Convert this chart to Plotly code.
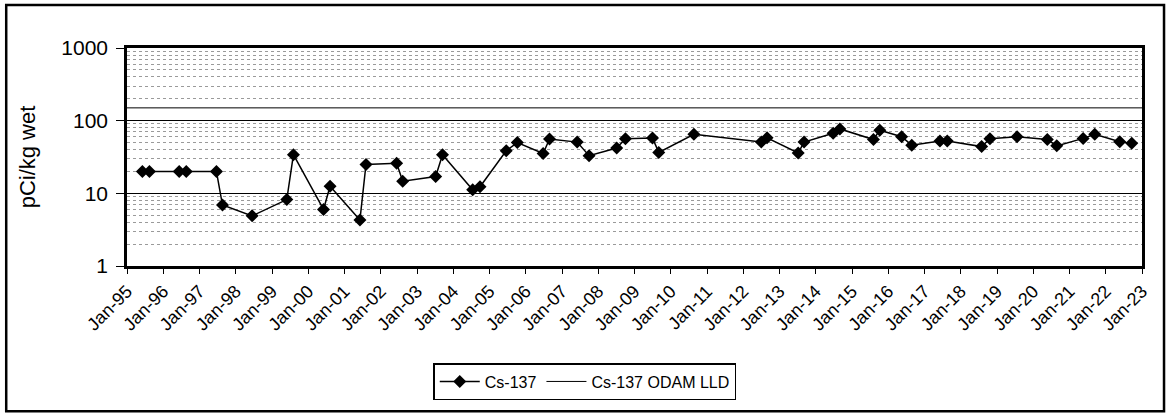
import plotly.graph_objects as go

# Cs-137 sample dates and values (pCi/kg wet)
dates = ["1995-06-05", "1995-08-15", "1996-06-10", "1996-08-20", "1997-06-20",
         "1997-08-20", "1998-06-15", "1999-05-30", "1999-08-05", "2000-06-03",
         "2000-08-08", "2001-06-05", "2001-08-05", "2002-06-10", "2002-08-10",
         "2003-07-08", "2003-09-15", "2004-07-15", "2004-09-27", "2005-06-18",
         "2005-10-08", "2006-06-25", "2006-08-28", "2007-06-03", "2007-10-01",
         "2008-07-05", "2008-10-01", "2009-07-01", "2009-09-02", "2010-08-22",
         "2012-07-01", "2012-08-28", "2013-07-08", "2013-09-05", "2014-06-25",
         "2014-09-01", "2015-08-05", "2015-10-08", "2016-05-15", "2016-08-25",
         "2017-06-05", "2017-08-18", "2018-07-30", "2018-10-22", "2019-07-22",
         "2020-05-22", "2020-08-25", "2021-05-18", "2021-09-12", "2022-05-22",
         "2022-09-20"]
cs137 = [20, 20, 20, 20, 20,
         6.9, 4.9, 8.2, 34, 6.0,
         12.5, 4.3, 25, 26, 14.7,
         17, 34, 11.2, 12.3, 38.6,
         50, 35.4, 56, 50.7, 33,
         42, 56.5, 57.6, 36.6, 65,
         51, 58, 36, 50.7, 67,
         77, 55, 74, 60, 46,
         52.5, 52.5, 44, 56.5, 60,
         55, 45, 57, 65, 51.4,
         48.7]

lld_dates = ["1995-01-01", "2023-01-01"]
lld_values = [150, 150]

y_tickvals = [1, 10, 100, 1000]
y_ticktext = ["1", "10", "100", "1000"]
minor_vals = [m * d for d in (1, 10, 100) for m in range(2, 10)]

FONT = "Liberation Sans, Arial, sans-serif"

fig = go.Figure()
fig.add_trace(go.Scatter(
    x=dates, y=cs137, mode="lines+markers", name="Cs-137",
    line=dict(color="black", width=1.5),
    marker=dict(symbol="diamond", size=10, color="black"),
))
fig.add_trace(go.Scatter(
    x=lld_dates, y=lld_values, mode="lines", name="Cs-137 ODAM LLD",
    line=dict(color="black", width=1),
))

fig.update_layout(
    width=1169, height=415,
    margin=dict(l=127, r=27, t=48, b=149, autoexpand=False),
    paper_bgcolor="white", plot_bgcolor="white",
    font=dict(family=FONT, color="black", size=16),
    showlegend=True,
    legend=dict(
        orientation="h", x=0.451, xanchor="center", y=-0.53, yanchor="middle",
        bordercolor="black", borderwidth=1.5, bgcolor="white",
        font=dict(size=16, family=FONT), itemwidth=40,
    ),
)

fig.update_xaxes(
    type="date", automargin=False,
    range=["1995-01-01", "2023-01-01"],
    tick0="1995-01-01", dtick="M12", tickformat="%b-%y",
    tickangle=-45, ticks="outside", ticklen=5, tickcolor="black",
    showgrid=False, zeroline=False,
    showline=True, linecolor="black", linewidth=2.5, mirror=True,
    tickfont=dict(size=18, family=FONT),
)
fig.update_yaxes(
    type="log", range=[0, 3], automargin=False,
    tickvals=y_tickvals, ticktext=y_ticktext,
    ticks="outside", ticklen=8, tickcolor="black",
    ticklabelstandoff=4,
    showgrid=True, gridcolor="black", gridwidth=1,
    showline=True, linecolor="black", linewidth=2.5, mirror=True,
    tickfont=dict(size=21, family=FONT),
    title=dict(text="pCi/kg wet", font=dict(size=22, family=FONT), standoff=20),
    minor=dict(tickvals=minor_vals, showgrid=True, gridcolor="#9a9a9a",
               griddash="dot", gridwidth=1, ticks=""),
)

# outer frame around the whole chart
fig.add_shape(type="rect", xref="paper", yref="paper",
              x0=-0.119, x1=1.0217, y0=-0.666, y1=1.197,
              line=dict(color="black", width=2.5), layer="above")

fig.write_html("out.html", config={"displayModeBar": False},
               post_script="document.body.style.margin='0';")
